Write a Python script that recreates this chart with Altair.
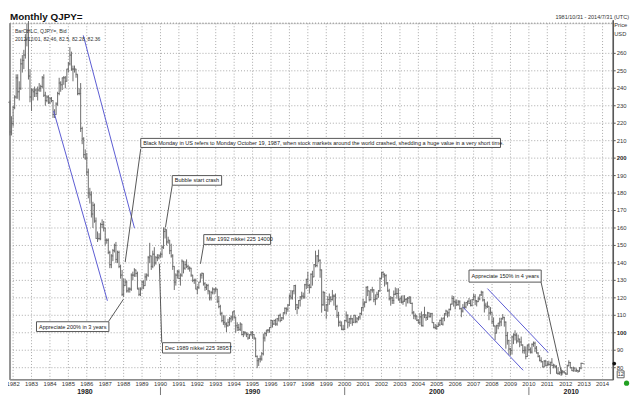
import altair as alt
import pandas as pd

FONT = "Liberation Sans"

# ---------------- monthly OHLC of QJPY= (Nov 1981 .. Dec 2012) ----------------
FIRST_YEAR, FIRST_MONTH = 1981, 11
FIRST_OPEN = 232.0

HIGH = [
    233, 224,
    230, 236, 248, 248, 244, 257, 259, 262, 271, 277, 278.5, 251,
    240, 240, 241, 240, 241, 243, 242, 247, 248, 238, 236, 236,
    235, 235, 233, 228, 232, 238, 246, 244, 246, 247, 247, 251,
    255, 263.6, 261, 253, 253, 251, 248, 240, 243, 218, 212, 205,
    203, 194, 183, 181, 175, 174, 166, 158, 157, 163, 165, 164,
    160, 154, 154, 147, 145, 148, 151, 152, 147, 147, 139, 136,
    131, 131, 130, 126, 126, 134, 135, 137, 136, 135, 126, 126,
    130, 130, 134, 134, 144, 151.5, 144, 147, 149, 144, 145, 145,
    146, 150, 160.4, 160, 159, 155, 153, 151, 145, 138, 134, 136,
    136, 134, 142, 141, 141, 142, 139, 138, 137, 133, 131, 131,
    127, 129, 134, 134.5, 134, 129, 128, 128, 124, 124, 126, 125,
    126, 125, 121, 116, 112, 110, 110, 106, 108, 109, 110, 112,
    113, 109, 106, 105, 106, 105, 101, 101, 100, 100, 99, 101,
    101, 99, 97, 87, 85.5, 87, 89, 99.5, 100.5, 101.5, 102, 103,
    107.5, 107, 107.5, 108, 108.5, 110.2, 111, 109, 111.5, 114.5, 114.5, 116.5,
    122, 124.5, 124, 127.2, 127.5, 116.5, 118.7, 121, 123.5, 123, 128, 131,
    135, 128, 134, 135.5, 139.2, 147, 144.5, 147.6, 142, 136.2, 124, 123.5,
    116.5, 121, 122.5, 121, 124.5, 122, 122.5, 116, 112, 107, 106.5, 104.5,
    107.3, 112.2, 110.5, 108.5, 110, 108.5, 110.2, 110, 109, 109.5, 111.5, 114.7,
    119.5, 118, 126.5, 126.8, 124, 125, 126.3, 125, 122, 123.5, 124.5, 131.7,
    135, 135.2, 134, 133.5, 129, 125.2, 121, 120.5, 124.2, 126, 125.5, 125.5,
    120.2, 121.3, 121.5, 121.5, 119.8, 120.5, 120.7, 120.5, 117.3, 112.5, 111, 109.8,
    107.7, 111.3, 112.2, 110.4, 114.9, 110.4, 112, 111.5, 111.4, 111.4, 106, 105,
    104.7, 106, 107.5, 108.8, 108.5, 111.2, 113.2, 112.3, 113.8, 116.5, 121.4, 121,
    118.9, 119.1, 118.7, 118.6, 114.4, 116.4, 117.8, 117.4, 118.3, 119.9, 119, 119.2,
    122.2, 122.1, 118.7, 120.7, 121.9, 124.1, 123.7, 119.3, 117.2, 117.9, 115.2, 114.7,
    111.7, 108.8, 104, 104.6, 105.6, 108.6, 108.6, 110.7, 109.1, 106.4, 100.5, 96,
    91.3, 98.4, 99.7, 101.4, 99.8, 98.9, 96.5, 97.8, 93.3, 92.3, 92.2, 93.1,
    93.7, 91.6, 93.9, 94.99, 94.9, 92.4, 88.9, 87.2, 86, 83.6, 84.4, 84.5,
    83.7, 84, 83.3, 85.5, 82.3, 81.5, 81.4, 80.2, 77.9, 79.6, 78.3, 78.3,
    77.2, 81.7, 84.2, 83.3, 80.4, 80.6, 80.1, 79.6, 78.8, 80.4, 82.8, 82.5,
]

LOW = [
    213, 213,
    218, 228, 234, 234, 233, 239, 249, 251, 257, 264, 245, 232,
    227, 233, 235, 235, 233, 238, 238, 240, 235, 230, 232, 231,
    231, 232, 223, 223, 225, 230, 236, 238, 239, 242, 240, 244,
    249, 253, 250, 244, 249, 246, 236, 236, 215, 208, 200, 199,
    190, 177, 174, 166, 160, 163, 154, 152, 153, 153, 160, 158,
    150, 151, 145, 137, 137, 141, 146, 140, 140, 137, 131, 121,
    120.5, 127, 123, 123, 123, 124, 130, 132, 132, 125, 121, 121,
    125, 125, 127, 130, 132, 140, 136, 137, 138, 139, 141, 142,
    143, 143, 148, 154, 150, 151, 145, 143, 136, 124.5, 127, 131,
    131, 127, 132, 134, 136, 137, 136, 135, 132, 129, 128, 125,
    122, 125, 129, 131, 127, 124, 124.5, 122, 118.5, 118.5, 122, 122,
    123, 117, 114, 110, 106, 104.5, 103, 100.4, 103.5, 104, 106, 107,
    108, 100, 101, 101, 101, 98.5, 97.5, 98.5, 97.5, 96, 96.5, 98,
    96.5, 96, 86, 79.75, 81, 83, 84, 87, 95, 98, 100, 100,
    103, 103, 104.5, 104, 104, 106.5, 106, 107, 107.5, 110.5, 110.5, 112,
    115.5, 119, 119, 122, 113, 110.6, 113.5, 115, 119, 119.5, 119.5, 125,
    125.5, 122.5, 125.5, 127, 132, 137.5, 137.5, 140.5, 131.5, 111.5, 115.5, 112.5,
    108, 112, 116, 117.5, 118.5, 115.5, 113, 108.5, 103.5, 104, 101.5, 101.3,
    101.5, 106, 102.5, 103.5, 105, 104, 105.5, 105.5, 105.5, 107, 107.5, 110,
    112.5, 114.5, 117, 121, 118, 118.5, 123, 117.5, 115.8, 119, 120, 123.5,
    130.5, 131.5, 126.5, 127.5, 123.5, 118.5, 115.5, 116.5, 116.5, 121.5, 119.5, 118.5,
    117, 116.8, 116, 117.8, 115, 116.8, 116.8, 116.5, 110.5, 107.8, 107.5, 106.7,
    105.2, 104.5, 103.6, 103.4, 108.4, 106.8, 107.3, 108.6, 108.7, 105.8, 102.5, 102,
    101.7, 103.5, 103.8, 104.5, 104.1, 106.6, 109.8, 108.7, 109.3, 112.8, 116.2, 115,
    113.4, 115.3, 115.5, 113.3, 108.9, 111.6, 113.5, 113.9, 115.5, 116.6, 115.1, 115.1,
    118.5, 115.8, 115.1, 117.6, 118.6, 121.1, 117.9, 111.6, 113.5, 114.2, 107.2, 110.3,
    104.9, 103.6, 95.8, 99.8, 102, 103.5, 103.8, 107.5, 103.5, 90.9, 93.2, 87.1,
    87.1, 87.5, 93.5, 95.6, 93.8, 94.4, 91.7, 92.6, 88.2, 88, 84.8, 86.2,
    89.2, 88.1, 88.1, 92, 88.9, 88.2, 85.9, 83.6, 82.9, 80.2, 80.3, 80.9,
    81, 81.1, 76.3, 81.1, 79.6, 79.7, 76.7, 75.9, 75.9, 75.3, 76.6, 76.9,
    76, 76.1, 80.9, 79.6, 78.2, 77.7, 77.9, 77.7, 77.1, 77.8, 79.1, 82.28,
]

CLOSE = [
    215, 219.9,
    229, 235, 246, 238, 240, 254, 256, 259, 268, 272, 247, 235,
    239, 238, 239, 237, 239, 240, 241, 246, 236, 233, 235, 232,
    234, 233, 225, 225, 231, 237, 243, 242, 246, 246, 244, 251,
    254, 259, 251, 251, 251, 248, 237, 237, 217, 211, 202, 200,
    192, 180, 179, 168, 173, 164, 154, 154, 154, 162, 162, 160,
    153, 153, 146, 139, 144, 147, 150, 142, 146, 138, 133, 122,
    127, 129, 124, 125, 125, 133, 133, 136, 134, 125, 122, 125,
    129, 127, 132, 133, 143, 144, 138, 145, 140, 143, 143, 144,
    145, 149, 158, 159, 152, 153, 147, 144, 138, 129, 133, 135,
    131, 133, 141, 137, 139, 138, 137, 137, 133, 130, 130, 125,
    126, 129, 133, 134, 128, 126, 127, 124, 120, 123, 125, 125,
    125, 118, 115, 111, 107, 106, 105, 104, 106, 108, 109, 112,
    109, 104, 103, 102, 105, 99, 100, 100, 99, 97, 99, 100,
    99, 97, 86.5, 84, 85, 85, 88, 97, 99.5, 101.5, 101.5, 103,
    107, 105, 107, 105, 108, 110, 107, 108.5, 111.5, 114, 113.5, 115.8,
    121, 120, 124, 127, 116, 114.5, 118.5, 120.5, 121, 120.5, 127.5, 130.5,
    127, 126, 133.5, 132, 139, 138.5, 144, 141.5, 136, 116, 123, 113,
    116, 119, 120, 119, 121, 121, 115, 110, 106, 104, 102, 102,
    107, 110, 106, 108, 108, 106, 110, 106.5, 108, 109, 111, 114.5,
    116.5, 117.5, 126, 124, 119, 124.5, 124.5, 119, 119.5, 122, 124, 131,
    134.5, 133.5, 132.7, 128.5, 124, 119.5, 120, 118.5, 122, 122.5, 122.5, 118.8,
    119.8, 117.5, 118, 119, 119.3, 119.8, 120.5, 116.8, 111.5, 109.7, 109.6, 107.2,
    105.8, 109.1, 104.1, 110.3, 110.2, 108.7, 111.4, 109.4, 110.9, 105.8, 103.1, 102.6,
    103.6, 104.6, 107.1, 104.9, 108.4, 110.9, 112.4, 111.4, 113.4, 116.4, 119.6, 117.8,
    117.2, 116.1, 117.7, 113.8, 112.4, 114.4, 114.7, 117.3, 118.1, 116.8, 115.7, 119,
    120.6, 118.3, 117.8, 119.4, 121.7, 123.2, 118.8, 115.8, 114.9, 115.2, 111.3, 111.7,
    106.4, 103.9, 99.8, 104, 105.5, 106.2, 108, 108.8, 106.1, 98.4, 95.5, 90.7,
    89.9, 97.6, 98.8, 98.6, 95.3, 96.4, 94.7, 93, 89.8, 90, 86.4, 93,
    90.3, 88.9, 93.4, 94, 91.2, 88.4, 86.5, 84.2, 83.5, 80.4, 83.7, 81.1,
    82, 81.8, 83.1, 81.2, 81.5, 80.6, 76.8, 76.7, 77.1, 78.2, 77.6, 77,
    76.3, 81.1, 82.9, 80, 78.3, 79.8, 78.1, 78.4, 77.9, 79.8, 82.5, 82.36,
]

# ---------------- axis labels / annotations ----------------
YEAR_TICKS = list(range(1982, 2015))
PRICE_TICKS = list(range(80, 261, 10))
BOLD_PRICES = [100, 200]
DECADE_LABELS = ["1980", "1990", "2000", "2010"]
DECADE_LABEL_POS = [1985.9, 1995.0, 2005.0, 2012.3]
DECADE_TICKS = [1990, 2000, 2010]

BOX_TEXT = [
    "Black Monday in US refers to Monday October 19, 1987, when stock markets around the world crashed, shedding a huge value in a very short time.",
    "Bubble start crash",
    "Mar 1992 nikkei 225 14000",
    "Dec 1989 nikkei 225 38957",
    "Appreciate 200%  in 3 years",
    "Appreciate 150% in 4 years",
]
BOX_X1 = [1988.93, 1990.64, 1992.35, 1990.11, 1983.27, 2006.75]
BOX_X2 = [2008.46, 1993.32, 1995.98, 1993.81, 1987.20, 2010.67]
BOX_Y1 = [206.1, 184.5, 150.6, 88.4, 100.7, 129.0]
BOX_Y2 = [211.3, 190.0, 156.2, 94.3, 106.3, 135.9]

CONN_X1 = [1988.93, 1990.64, 1992.35, 1990.07, 1987.19, 2010.66]
CONN_Y1 = [205.4, 184.5, 150.6, 94.3, 106.6, 129.0]
CONN_X2 = [1988.085, 1990.27, 1992.17, 1989.94, 1987.99, 2011.80]
CONN_Y2 = [140.5, 160.3, 139.5, 139.5, 119.2, 75.75]

TREND_X1 = [1985.81, 1984.20, 2007.75, 2006.43]
TREND_Y1 = [270.3, 227.0, 125.3, 114.6]
TREND_X2 = [1988.59, 1987.12, 2011.05, 2009.69]
TREND_Y2 = [159.9, 118.3, 88.7, 78.5]

TITLE = "Monthly QJPY="
RANGE_TEXT = "1981/10/31 - 2014/7/31 (UTC)"
LEGEND_1 = "BarOHLC, QJPY=, Bid"
LEGEND_2 = "2012/12/01, 82.46, 82.5, 82.28, 82.36"

# ---------------- build tables ----------------
n = len(CLOSE)
t = [FIRST_YEAR + (FIRST_MONTH - 1 + i) / 12 for i in range(n)]
opens = [FIRST_OPEN] + CLOSE[:-1]
ohlc = pd.DataFrame({"t": t, "open": opens, "high": HIGH, "low": LOW, "close": CLOSE})

boxes = pd.DataFrame({"text": BOX_TEXT, "x1": BOX_X1, "x2": BOX_X2, "y1": BOX_Y1, "y2": BOX_Y2})
conns = pd.DataFrame({"x1": CONN_X1, "y1": CONN_Y1, "x2": CONN_X2, "y2": CONN_Y2})
trends = pd.DataFrame({"x1": TREND_X1, "y1": TREND_Y1, "x2": TREND_X2, "y2": TREND_Y2})
decades = pd.DataFrame({"label": DECADE_LABELS, "x": DECADE_LABEL_POS})
dticks = pd.DataFrame({"x": DECADE_TICKS})
years = pd.DataFrame({"v": YEAR_TICKS, "s": [str(v) for v in YEAR_TICKS]})
prices = pd.DataFrame({"v": PRICE_TICKS, "s": [str(v) for v in PRICE_TICKS],
                       "b": [v in BOLD_PRICES for v in PRICE_TICKS]})
last = pd.DataFrame({"close": [CLOSE[-1]]})

W, H = 611, 361
xscale = alt.Scale(domain=[1981.83, 2014.58], nice=False, zero=False)
yscale = alt.Scale(domain=[73.1, 277.2], nice=False, zero=False)


def X(f):
    return alt.X(f, type="quantitative", scale=xscale, axis=None)


def Y(f):
    return alt.Y(f, type="quantitative", scale=yscale, axis=None)


GRID = "#a8a8a8"
# grid lines and axes drawn through the same scales
vgrid = alt.Chart(years).mark_rule(color=GRID, strokeDash=[1, 2], strokeWidth=1).encode(
    x=X("v"), y=alt.value(0), y2=alt.value(H))
hgrid = alt.Chart(prices).mark_rule(color=GRID, strokeDash=[1, 2], strokeWidth=1).encode(
    y=Y("v"), x=alt.value(0), x2=alt.value(W))
xlab = alt.Chart(years).mark_text(font=FONT, fontSize=6, color="#333", baseline="middle").encode(
    x=X("v"), y=alt.value(H + 4), text="s:N")
ylab = alt.Chart(prices).transform_filter("!datum.b").mark_text(
    font=FONT, fontSize=6, color="#333", align="left", baseline="middle").encode(
    x=alt.value(W + 3.5), y=Y("v"), text="s:N")
ylab_b = alt.Chart(prices).transform_filter("datum.b").mark_text(
    font=FONT, fontSize=6, fontWeight="bold", color="#222", align="left",
    baseline="middle").encode(x=alt.value(W + 3.5), y=Y("v"), text="s:N")
ytick = alt.Chart(prices).mark_rule(color="#555").encode(
    y=Y("v"), x=alt.value(W), x2=alt.value(W + 2.5))
xdomain = alt.Chart(dticks).mark_rule(color="#8a8a8a").encode(
    x=alt.value(0), x2=alt.value(W), y=alt.value(H))
ydomain = alt.Chart(dticks).mark_rule(color="#555").encode(
    x=alt.value(W), y=alt.value(-3), y2=alt.value(H))
left_border = alt.Chart(dticks).mark_rule(color="#888").encode(
    x=alt.value(0), y=alt.value(0), y2=alt.value(H))
top_border = alt.Chart(dticks).mark_rule(color=GRID, strokeDash=[1, 2]).encode(
    x=alt.value(0), x2=alt.value(W), y=alt.value(0))

BAR = "#6e6e6e"
hl = alt.Chart(ohlc).mark_rule(color=BAR, strokeWidth=1).encode(
    x=X("t"), y=Y("low"), y2="high:Q")
op = alt.Chart(ohlc).mark_tick(orient="horizontal", size=2, thickness=1, xOffset=-1,
                               color=BAR).encode(x=X("t"), y=Y("open"))
cl = alt.Chart(ohlc).mark_tick(orient="horizontal", size=2, thickness=1, xOffset=1,
                               color=BAR).encode(x=X("t"), y=Y("close"))

trend = alt.Chart(trends).mark_rule(color="#5a5ad2", strokeWidth=1).encode(
    x=X("x1"), y=Y("y1"), x2="x2:Q", y2="y2:Q")
conn = alt.Chart(conns).mark_rule(color="#555", strokeWidth=1).encode(
    x=X("x1"), y=Y("y1"), x2="x2:Q", y2="y2:Q")
rect = alt.Chart(boxes).mark_rect(fill="white", stroke="#555", strokeWidth=1).encode(
    x=X("x1"), x2="x2:Q", y=Y("y1"), y2="y2:Q")
btext = alt.Chart(boxes).transform_calculate(ym="(datum.y1 + datum.y2) / 2").mark_text(
    align="left", baseline="middle", dx=2.5, font=FONT, fontSize=5.6, color="#222"
).encode(x=X("x1"), y=Y("ym"), text="text:N")

dec_text = alt.Chart(decades).mark_text(fontWeight="bold", font=FONT, fontSize=7,
                                        color="#222", baseline="middle").encode(
    x=X("x"), y=alt.value(H + 12.5), text="label:N")
dec_tick = alt.Chart(dticks).mark_rule(color="#777").encode(
    x=X("x"), y=alt.value(H + 7.5), y2=alt.value(H + 15.5))


def label(txt, x, y, size=5.6, weight="normal", align="left", color="#333"):
    return alt.Chart(pd.DataFrame({"s": [txt]})).mark_text(
        align=align, baseline="middle", fontSize=size, fontWeight=weight, font=FONT, color=color
    ).encode(x=alt.value(x), y=alt.value(y), text="s:N")


title = label(TITLE, 0, -6, size=10, weight="bold", color="#111")
rng = label(RANGE_TEXT, 627, -6, size=5.6, align="right")
leg1 = label(LEGEND_1, 5, 7.6, size=5.2)
leg2 = label(LEGEND_2, 5, 15.7, size=5.2)
price = label("Price", 612, 1.7, size=5.8)
usd = label("USD", 612, 10.5, size=5.8)

last_dot = alt.Chart(last).mark_point(filled=True, size=14, color="#111", opacity=1).encode(
    x=alt.value(W + 1), y=Y("close"))
box12 = alt.Chart(last).mark_rect(fill="white", stroke="#666", strokeWidth=1).encode(
    x=alt.value(W + 4), x2=alt.value(W + 11), y=alt.value(H - 9), y2=alt.value(H - 2))
txt12 = label("12", W + 7.5, H - 5.5, size=5.5, align="center")
green = alt.Chart(last).mark_circle(size=28, color="#22a022", opacity=1).encode(
    x=alt.value(W + 13.5), y=alt.value(H + 3.5))

chart = alt.layer(
    vgrid, hgrid, top_border, left_border, xdomain,
    hl, op, cl, trend, conn, rect, btext,
    ydomain, ytick, ylab, ylab_b, xlab, dec_text, dec_tick,
    title, rng, leg1, leg2, price, usd, last_dot, box12, txt12, green
).properties(
    width=W, height=H,
    padding={"left": 2, "top": 13, "right": 19, "bottom": 17},
    autosize=alt.AutoSizeParams(type="none"),
).configure_view(stroke="transparent").configure(font=FONT)

chart.save("out.html", embed_options={"renderer": "svg", "actions": False})
